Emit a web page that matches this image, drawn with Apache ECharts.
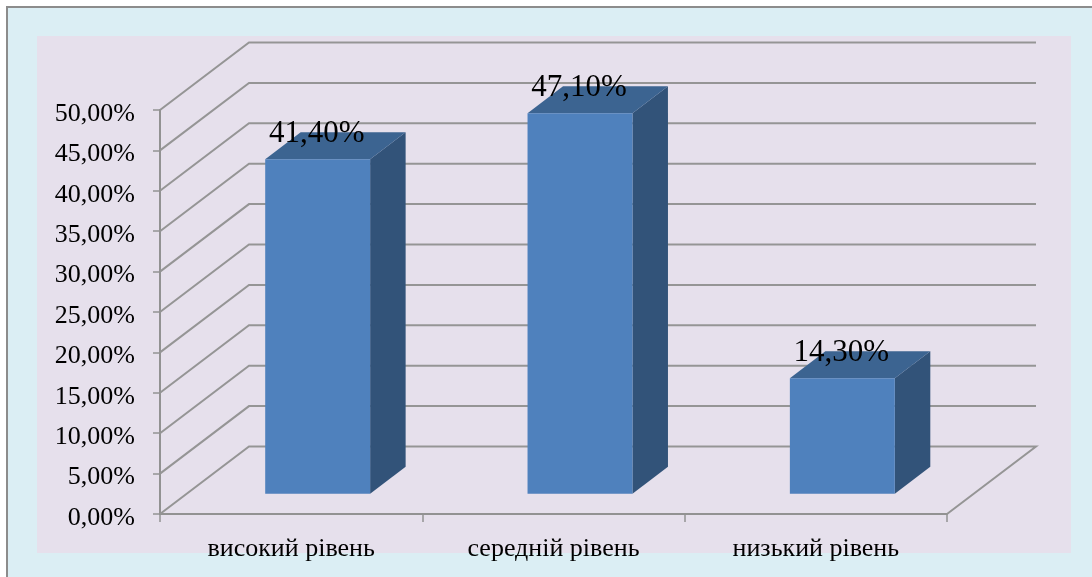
<!DOCTYPE html>
<html><head><meta charset="utf-8">
<style>html,body{margin:0;padding:0;background:#fff}#c{width:1092px;height:577px}</style>
<script src="https://cdn.jsdelivr.net/npm/echarts@6/dist/echarts.min.js"></script>
</head><body><div id="c"></div>
<script>
const categories = ['високий рівень', 'середній рівень', 'низький рівень'];
const values = [41.4, 47.1, 14.3];
const ticks = [0, 5, 10, 15, 20, 25, 30, 35, 40, 45, 50];

const SERIF = '"Liberation Serif", "Times New Roman", serif';
const WALL_DX = 89, WALL_DY = 67.5;       // depth of the 3D box
const BAR_SHIFT_X = 26.5, BAR_SHIFT_Y = 20.3; // bar position within the depth
const BAR_DX = 35.5, BAR_DY = 27;         // depth of each bar
const fmt = v => v.toFixed(2).replace('.', ',') + '%';

const chart = echarts.init(document.getElementById('c'), null, {renderer: 'canvas'});
chart.setOption({
  animation: false,
  backgroundColor: '#ffffff',
  graphic: [
    {type: 'rect', z: -10, silent: true, shape: {x: 7, y: 7, width: 1085, height: 570},
     style: {fill: '#dbeef4'}},
    {type: 'polyline', z: -10, silent: true, shape: {points: [[7, 577], [7, 7], [1092, 7]]},
     style: {fill: null, stroke: '#8c8c8c', lineWidth: 2}},
    {type: 'rect', z: -9, silent: true, shape: {x: 37, y: 36, width: 1034, height: 517},
     style: {fill: '#e6e0ec'}}
  ],
  grid: {left: 160, right: 145, top: 110, bottom: 63, containLabel: false},
  xAxis: {
    type: 'category', data: categories,
    axisLine: {lineStyle: {color: '#929292', width: 2}},
    axisTick: {show: true, length: 8, alignWithLabel: false, lineStyle: {color: '#929292', width: 1.5}},
    axisLabel: {color: '#000', fontFamily: SERIF, fontSize: 26, margin: 22}
  },
  yAxis: {
    type: 'value', min: 0, max: 50, interval: 5,
    splitLine: {show: false},
    axisLine: {show: true, lineStyle: {color: '#929292', width: 2}},
    axisTick: {show: true, length: 7, lineStyle: {color: '#929292', width: 1.5}},
    axisLabel: {color: '#000', fontFamily: SERIF, fontSize: 26, margin: 25, verticalAlign: 'top', lineHeight: 8, formatter: fmt}
  },
  series: [
    {
      type: 'custom', z: 1, clip: false, silent: true,
      data: ticks.map(t => [0, t]),
      encode: {x: 0, y: 1},
      renderItem(params, api) {
        const cs = params.coordSys;
        const y = api.coord([0, api.value(1)])[1];
        const x0 = cs.x, x1 = cs.x + cs.width;
        const pts = [[x0, y], [x0 + WALL_DX, y - WALL_DY], [x1 + WALL_DX, y - WALL_DY]];
        if (api.value(1) === 0) pts.push([x1, y]);
        return {type: 'polyline', shape: {points: pts},
                style: {fill: null, stroke: '#959595', lineWidth: 2}};
      }
    },
    {
      type: 'custom', z: 2, clip: false, silent: true,
      data: values.map((v, i) => [i, v]),
      encode: {x: 0, y: 1},
      renderItem(params, api) {
        const c = api.coord([api.value(0), api.value(1)]);
        const b = api.coord([api.value(0), 0]);
        const w = api.size([1, 0])[0] * 0.4;
        const l = c[0] + BAR_SHIFT_X - w / 2, r = l + w;
        const t = c[1] - BAR_SHIFT_Y, bot = b[1] - BAR_SHIFT_Y;
        return {type: 'group', children: [
          {type: 'polygon', shape: {points: [[r, t], [r + BAR_DX, t - BAR_DY], [r + BAR_DX, bot - BAR_DY], [r, bot]]},
           style: {fill: '#325379'}},
          {type: 'polygon', shape: {points: [[l, t], [l + BAR_DX, t - BAR_DY], [r + BAR_DX, t - BAR_DY], [r, t]]},
           style: {fill: '#3c6491'}},
          {type: 'rect', shape: {x: l, y: t, width: w, height: bot - t}, style: {fill: '#4f81bd'}},
          {type: 'text', x: (l + r) / 2 - 1, y: t - 25.5,
           style: {text: fmt(api.value(1)), fill: '#000', font: '31px ' + SERIF, align: 'center', verticalAlign: 'middle'}}
        ]};
      }
    }
  ]
});
</script></body></html>
